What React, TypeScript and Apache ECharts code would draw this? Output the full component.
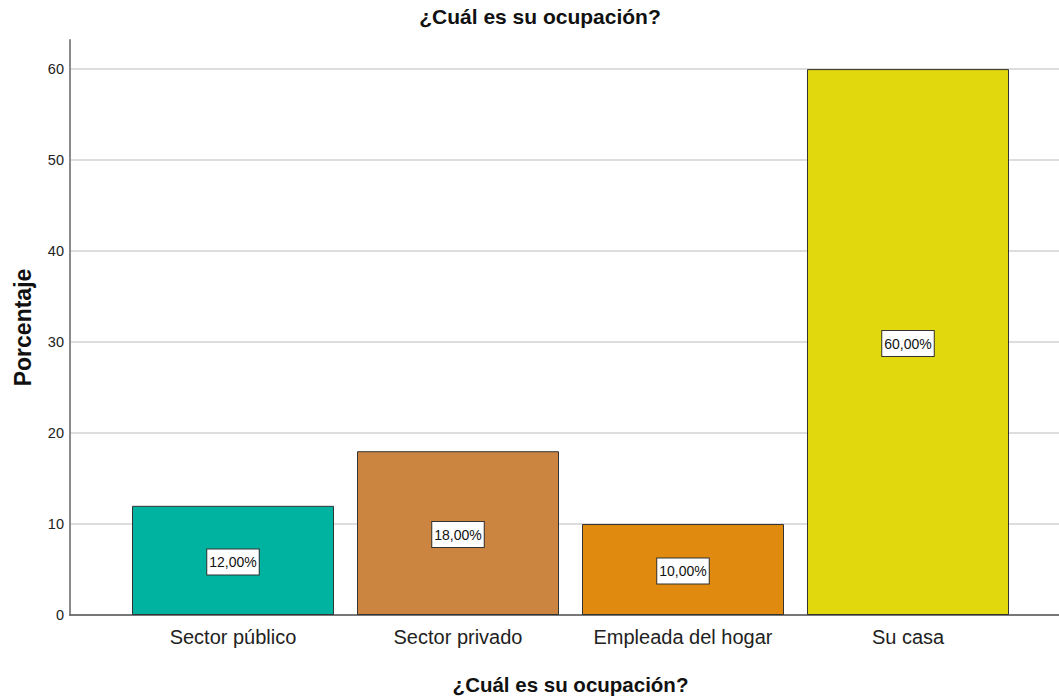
import React, { useEffect, useRef } from "react";
import * as echarts from "echarts";

const categories = ["Sector público", "Sector privado", "Empleada del hogar", "Su casa"];
const percentages = [12, 18, 10, 60];
const yTicks = [0, 10, 20, 30, 40, 50, 60];
const palette = ["#00b3a0", "#cc8540", "#e08a10", "#e2d80e"];

const FONT = "'Liberation Sans', Arial, sans-serif";
const Y_MAX = 63.2;

export default function App() {
  const ref = useRef<HTMLDivElement>(null);
  useEffect(() => {
    if (!ref.current) return;
    const chart = echarts.init(ref.current, undefined, { renderer: "svg" });
    chart.setOption({
      animation: false,
      backgroundColor: "#ffffff",
      title: {
        text: "¿Cuál es su ocupación?",
        left: 540,
        textAlign: "center",
        top: 6,
        padding: 0,
        textStyle: { fontFamily: FONT, fontSize: 21, fontWeight: "bold", color: "#111" },
      },
      grid: [
        { left: 70, right: 0, top: 40, bottom: 82, outerBoundsMode: "none", containLabel: false },
        { left: 120.5, right: 38.5, top: 40, bottom: 82, outerBoundsMode: "none", containLabel: false },
      ],
      xAxis: [
        {
          type: "value",
          gridIndex: 0,
          min: 0,
          max: 1,
          axisLine: { show: true, lineStyle: { color: "#555", width: 1.5 } },
          axisTick: { show: false },
          axisLabel: { show: false },
          splitLine: { show: false },
        },
        {
          type: "category",
          gridIndex: 1,
          data: categories,
          axisLine: { show: false },
          axisTick: { show: false },
          axisLabel: { fontFamily: FONT, fontSize: 20, color: "#222", margin: 12, interval: 0 },
          name: "¿Cuál es su ocupación?",
          nameLocation: "middle",
          nameGap: 59,
          nameTextStyle: { fontFamily: FONT, fontSize: 20.5, fontWeight: "bold", color: "#111" },
        },
      ],
      yAxis: [
        {
          type: "value",
          gridIndex: 0,
          min: 0,
          max: Y_MAX,
          interval: 10,
          axisLine: { show: true, lineStyle: { color: "#8a8a8a", width: 2 } },
          axisTick: { show: false },
          axisLabel: {
            fontFamily: FONT,
            fontSize: 14.5,
            color: "#222",
            margin: 6,
            showMaxLabel: false,
            formatter: (v: number) => (yTicks.includes(v) ? String(v) : ""),
          },
          splitLine: { show: true, showMaxLine: false, lineStyle: { color: "#d2d2d2", width: 1.5 } },
          name: "Porcentaje",
          nameLocation: "middle",
          nameGap: 36,
          nameTextStyle: { fontFamily: FONT, fontSize: 23, fontWeight: "bold", color: "#111" },
        },
        {
          type: "value",
          gridIndex: 1,
          min: 0,
          max: Y_MAX,
          show: false,
          splitLine: { show: false },
        },
      ],
      series: [
        {
          type: "bar",
          xAxisIndex: 1,
          yAxisIndex: 1,
          barWidth: 202,
          data: percentages.map((v, i) => ({
            value: v,
            itemStyle: { color: palette[i], borderColor: "#333", borderWidth: 1 },
          })),
          label: {
            show: true,
            position: "inside",
            offset: [0, 1.5],
            formatter: (p: any) => `${Number(p.value).toFixed(2).replace(".", ",")}%`,
            fontFamily: FONT,
            fontSize: 14,
            lineHeight: 19,
            color: "#111",
            backgroundColor: "#ffffff",
            borderColor: "#333",
            borderWidth: 1,
            padding: [3, 2, 3, 2],
          },
        },
      ],
    });
    return () => chart.dispose();
  }, []);
  return (
    <div
      ref={ref}
      style={{ position: "absolute", left: 0, top: 0, width: 1059, height: 697 }}
    />
  );
}
